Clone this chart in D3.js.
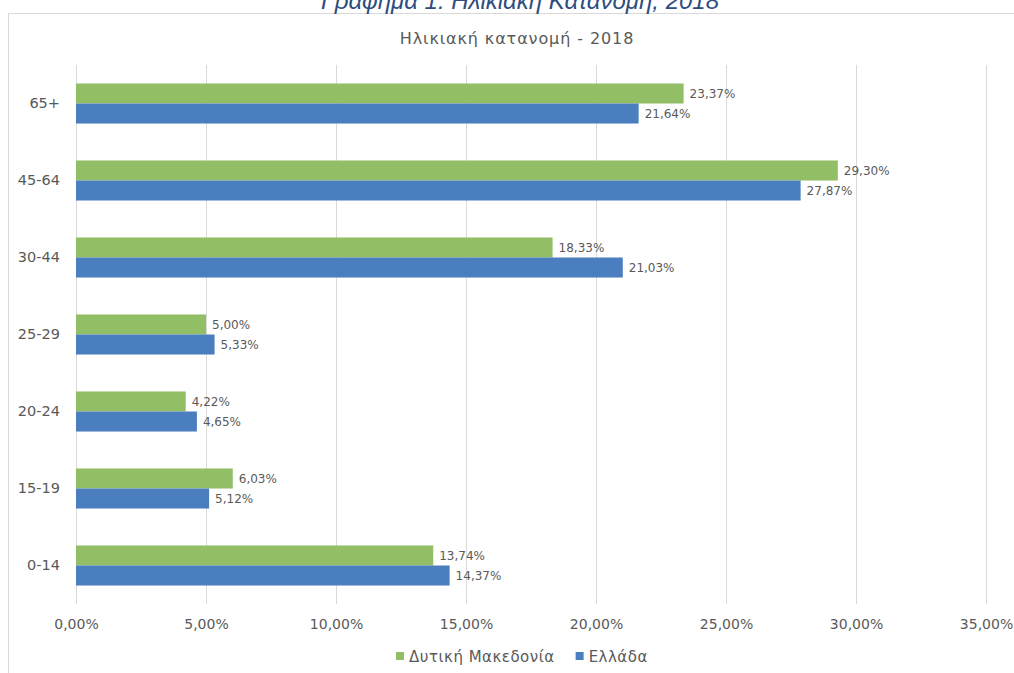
<!DOCTYPE html>
<html>
<head>
<meta charset="utf-8">
<script src="https://cdn.jsdelivr.net/npm/d3@7/dist/d3.min.js"></script>
<style>
  html, body { margin: 0; padding: 0; background: #ffffff; }
  svg { display: block; }
  text { font-family: "DejaVu Sans", sans-serif; fill: #595959; }
</style>
</head>
<body>
<svg id="chart" width="1014" height="673"></svg>
<script>
const caption = "Γράφημα 1: Ηλικιακή Κατανομή, 2018";
const chartTitle = "Ηλικιακή κατανομή - 2018";
const categories = ["65+", "45-64", "30-44", "25-29", "20-24", "15-19", "0-14"];
const seriesNames = ["Δυτική Μακεδονία", "Ελλάδα"];
const seriesColors = ["#92BE65", "#4A7EBE"];
const westMacedonia = [23.37, 29.30, 18.33, 5.00, 4.22, 6.03, 13.74];
const greece = [21.64, 27.87, 21.03, 5.33, 4.65, 5.12, 14.37];
const xTicks = [0, 5, 10, 15, 20, 25, 30, 35];

const seriesValues = [westMacedonia, greece];
const fmt = v => v.toFixed(2).replace(".", ",") + "%";

const svg = d3.select("#chart");

// outer frame (chart area border)
svg.append("rect")
  .attr("x", 8.5).attr("y", 13.5)
  .attr("width", 1040).attr("height", 700)
  .attr("fill", "none").attr("stroke", "#D9D9D9").attr("stroke-width", 1);

// caption above the chart (partly cut off, as in the source)
svg.append("text")
  .attr("x", 520).attr("y", 9)
  .attr("text-anchor", "middle")
  .style("font-family", "'Liberation Sans', Arial, sans-serif")
  .style("font-style", "italic")
  .style("font-size", "24px")
  .style("fill", "#2E4C7E")
  .text(caption);

// chart title
svg.append("text")
  .attr("x", 517).attr("y", 44)
  .attr("text-anchor", "middle")
  .style("font-size", "16px")
  .style("letter-spacing", "0.9px")
  .text(chartTitle);

const x = d3.scaleLinear().domain([0, 35]).range([76, 986]);
const y = d3.scaleBand().domain(categories).range([65, 604])
  .paddingInner(0.48).paddingOuter(0.24);
const ySub = d3.scaleBand().domain(seriesNames).range([0, y.bandwidth()]);

// gridlines
svg.append("g").selectAll("line")
  .data(xTicks).join("line")
  .attr("x1", d => Math.round(x(d)) + 0.5)
  .attr("x2", d => Math.round(x(d)) + 0.5)
  .attr("y1", 65).attr("y2", 604)
  .attr("stroke", "#D9D9D9").attr("stroke-width", 1);

// x axis tick labels
const xAxis = d3.axisBottom(x).tickValues(xTicks).tickFormat(fmt).tickSize(0).tickPadding(0);
const gx = svg.append("g").attr("transform", "translate(0,619)").call(xAxis);
gx.select(".domain").remove();
gx.selectAll("text")
  .style("font-family", "'DejaVu Sans', sans-serif")
  .style("font-size", "14px")
  .attr("fill", "#595959")
  .attr("dy", "0.71em");

// y axis category labels
const yAxis = d3.axisLeft(y).tickSize(0).tickPadding(0);
const gy = svg.append("g").attr("transform", "translate(60,0)").call(yAxis);
gy.select(".domain").remove();
gy.selectAll("text")
  .style("font-family", "'DejaVu Sans', sans-serif")
  .style("font-size", "14.5px")
  .attr("fill", "#595959");

// bars
const rows = categories.map((c, i) => ({ cat: c, vals: seriesNames.map((s, j) => ({ s, j, v: seriesValues[j][i] })) }));

const groups = svg.append("g").selectAll("g")
  .data(rows).join("g")
  .attr("transform", d => `translate(0,${y(d.cat)})`);

groups.selectAll("rect")
  .data(d => d.vals).join("rect")
  .attr("x", x(0))
  .attr("y", d => ySub(d.s))
  .attr("width", d => x(d.v) - x(0))
  .attr("height", ySub.bandwidth())
  .attr("fill", d => seriesColors[d.j]);

groups.selectAll("text")
  .data(d => d.vals).join("text")
  .attr("x", d => x(d.v) + 6)
  .attr("y", d => ySub(d.s) + ySub.bandwidth() / 2)
  .attr("dy", "0.36em")
  .style("font-size", "12px")
  .text(d => fmt(d.v));

// legend
const legend = svg.append("g");
let lx = 396;
seriesNames.forEach((name, j) => {
  legend.append("rect")
    .attr("x", lx).attr("y", 652)
    .attr("width", 8).attr("height", 8)
    .attr("fill", seriesColors[j]);
  const t = legend.append("text")
    .attr("x", lx + 13).attr("y", 662)
    .style("font-size", "15px")
    .style("letter-spacing", "0.5px")
    .text(name);
  lx = lx + 13 + t.node().getComputedTextLength() + 21;
});
</script>
</body>
</html>
